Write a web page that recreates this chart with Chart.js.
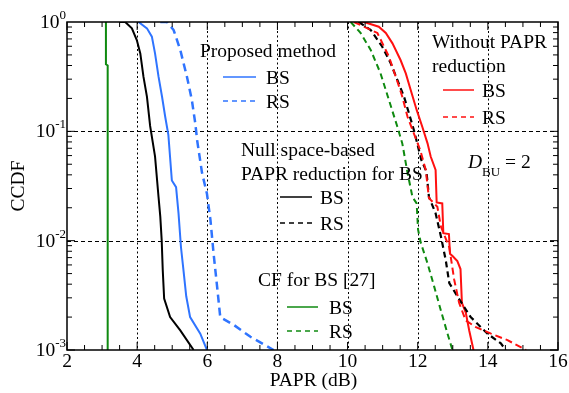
<!DOCTYPE html>
<html>
<head>
<meta charset="utf-8">
<script src="https://cdn.jsdelivr.net/npm/chart.js@4.4.1/dist/chart.umd.min.js"></script>
<style>
  html, body { margin: 0; padding: 0; background: #fff; }
  #wrap { width: 569px; height: 393px; }
</style>
</head>
<body>
<div id="wrap"><canvas id="papr"></canvas></div>
<script>
// PAPR (dB) / CCDF pairs
var propBsX = [4.04, 4.28, 4.42, 4.51, 4.61, 4.71, 4.80, 4.89, 4.99, 5.11, 5.18, 5.25, 5.32, 5.40, 5.51, 5.80, 5.99]
var propBsY = [1, 0.875, 0.735, 0.516, 0.316, 0.207, 0.136, 0.093, 0.0355, 0.0309, 0.0178, 0.0087, 0.0054, 0.0031, 0.0020, 0.00141, 0.001]

var propRsX = [4.66, 4.85, 5.04, 5.23, 5.42, 5.56, 5.66, 5.71, 5.85, 5.99, 6.09, 6.18, 6.28, 6.37, 6.75, 7.23, 7.89]
var propRsY = [1, 1, 0.845, 0.555, 0.316, 0.193, 0.117, 0.083, 0.0417, 0.0269, 0.0155, 0.0076, 0.0038, 0.0020, 0.0017, 0.00132, 0.001]

var nullBsX = [3.50, 3.66, 3.85, 3.99, 4.09, 4.18, 4.28, 4.37, 4.51, 4.61, 4.66, 4.70, 4.73, 4.77, 4.94, 5.23, 5.61]
var nullBsY = [1, 1, 0.875, 0.684, 0.516, 0.316, 0.207, 0.112, 0.059, 0.0251, 0.0166, 0.0101, 0.0054, 0.00295, 0.0020, 0.00151, 0.001]

var nullRsX = [10.32, 10.66, 10.99, 11.23, 11.42, 11.61, 11.75, 11.89, 12.01, 12.10, 12.25, 12.32, 12.51, 12.66, 12.80, 12.90, 13.13, 13.51, 13.99, 14.37, 14.51]
var nullRsY = [1, 0.845, 0.594, 0.419, 0.295, 0.207, 0.146, 0.103, 0.0724, 0.055, 0.0427, 0.0251, 0.0178, 0.011, 0.0066, 0.0041, 0.0031, 0.0020, 0.00141, 0.00115, 0.001]

var cfBsX = [3.11, 3.11, 3.16, 3.16]
var cfBsY = [1, 0.41, 0.40, 0.001]

var cfRsX = [10.09, 10.37, 10.66, 10.94, 11.18, 11.42, 11.56, 11.71, 11.85, 11.97, 12.01, 12.09, 12.28, 12.47, 12.66, 12.85, 12.99]
var cfRsY = [1, 0.794, 0.555, 0.339, 0.193, 0.110, 0.0776, 0.0417, 0.0251, 0.0219, 0.0126, 0.0095, 0.0062, 0.0038, 0.0023, 0.00141, 0.001]

var woBsX = [10.30, 10.47, 10.89, 11.09, 11.28, 11.51, 11.66, 11.80, 11.97, 12.13, 12.28, 12.37, 12.51, 12.54, 12.70, 12.73, 12.89, 12.92, 13.00, 13.13, 13.22, 13.26, 13.37, 13.47, 13.59]
var woBsY = [1, 1, 0.906, 0.794, 0.638, 0.449, 0.339, 0.239, 0.157, 0.110, 0.0776, 0.0589, 0.0443, 0.0224, 0.0219, 0.0117, 0.0115, 0.0076, 0.0072, 0.0065, 0.0055, 0.0027, 0.0022, 0.0015, 0.001]

var woRsX = [10.18, 10.85, 11.18, 11.47, 11.56, 11.71, 11.89, 12.07, 12.23, 12.32, 12.56, 12.66, 12.90, 13.04, 13.18, 13.37, 13.66, 14.09, 14.56, 15.09]
var woRsY = [1, 0.794, 0.482, 0.256, 0.207, 0.136, 0.0955, 0.0676, 0.0443, 0.0245, 0.0204, 0.0135, 0.0087, 0.0044, 0.0027, 0.00186, 0.00162, 0.00141, 0.00123, 0.001]

var xTicks = [2, 4, 6, 8, 10, 12, 14, 16]
var yTicks = [1, 0.1, 0.01, 0.001]
var yTickExp = ['0', '-1', '-2', '-3']

var BLUE = '#2f74ff'
var RED = '#ff1010'
var GREEN = '#0f8a10'
var BLACK = '#000000'
var FONT = '"Liberation Serif", "Times New Roman", serif'

function pts(xs, ys) {
  var out = []
  for (var i = 0; i < xs.length; i++) out.push({ x: xs[i], y: ys[i] })
  return out
}

function line(label, xs, ys, colour, dash, width) {
  return {
    label: label,
    data: pts(xs, ys),
    borderColor: colour,
    borderWidth: width || 2,
    borderDash: dash || [],
    pointRadius: 0,
    showLine: true,
    fill: false,
    tension: 0
  }
}

// legend blocks: [title lines, title x, first baseline, line x0, line x1, text x, bs line y, colour]
var legends = [
  { title: ['Proposed method'], tx: 200, ty: 57, lx0: 223, lx1: 256, sx: 266, y1: 77, y2: 101, colour: BLUE },
  { title: ['Null space-based', 'PAPR reduction for BS'], tx: 241, ty: 156, lx0: 280, lx1: 312, sx: 320, y1: 197, y2: 223, colour: BLACK },
  { title: ['CF for BS [27]'], tx: 258, ty: 286, lx0: 287, lx1: 318, sx: 329, y1: 307, y2: 331, colour: GREEN },
  { title: ['Without PAPR', 'reduction'], tx: 432, ty: 48, lx0: 443, lx1: 474, sx: 482, y1: 90, y2: 117, colour: RED }
]

var framePlugin = {
  id: 'frame',
  beforeDatasetsDraw: function(chart) {
    var ctx = chart.ctx
    var ca = chart.chartArea
    var xs = chart.scales.x
    var ys = chart.scales.y
    ctx.save()
    ctx.strokeStyle = '#000'
    ctx.lineWidth = 1
    ctx.setLineDash([2, 2.5])
    for (var v = 4; v <= 14; v += 2) {
      var px = Math.round(xs.getPixelForValue(v)) + 0.5
      ctx.beginPath(); ctx.moveTo(px, ca.top); ctx.lineTo(px, ca.bottom); ctx.stroke()
    }
    ctx.setLineDash([4, 3])
    ;[0.1, 0.01].forEach(function(v) {
      var py = Math.round(ys.getPixelForValue(v)) + 0.5
      ctx.beginPath(); ctx.moveTo(ca.left, py); ctx.lineTo(ca.right, py); ctx.stroke()
    })
    ctx.restore()
  },
  afterDatasetsDraw: function(chart) {
    var ctx = chart.ctx
    var ca = chart.chartArea
    var xs = chart.scales.x
    var ys = chart.scales.y
    ctx.save()
    ctx.setLineDash([])
    ctx.strokeStyle = '#000'
    ctx.lineWidth = 1.5
    ctx.strokeRect(ca.left, ca.top, ca.right - ca.left, ca.bottom - ca.top)

    // inward ticks
    ctx.lineWidth = 1
    ctx.beginPath()
    for (var v = 2; v <= 16.001; v += 0.5) {
      var px = xs.getPixelForValue(v)
      var len = (v % 2 === 0) ? 8 : 5
      ctx.moveTo(px, ca.bottom); ctx.lineTo(px, ca.bottom - len)
      ctx.moveTo(px, ca.top); ctx.lineTo(px, ca.top + len)
    }
    for (var e = -3; e < 0; e++) {
      for (var k = 1; k <= 9; k++) {
        var py = ys.getPixelForValue(k * Math.pow(10, e))
        var l = (k === 1) ? 8 : 5
        ctx.moveTo(ca.left, py); ctx.lineTo(ca.left + l, py)
        ctx.moveTo(ca.right, py); ctx.lineTo(ca.right - l, py)
      }
    }
    ctx.stroke()

    // tick labels
    ctx.fillStyle = '#000'
    ctx.font = '19.5px ' + FONT
    ctx.textAlign = 'center'
    ctx.textBaseline = 'alphabetic'
    xTicks.forEach(function(v) {
      ctx.fillText(String(v), xs.getPixelForValue(v), ca.bottom + 17)
    })
    yTicks.forEach(function(v, i) {
      var py = ys.getPixelForValue(v)
      ctx.font = '13px ' + FONT
      ctx.textAlign = 'left'
      var ew = ctx.measureText(yTickExp[i]).width
      var ex = ca.left - 1 - ew
      ctx.fillText(yTickExp[i], ex, py - 3)
      ctx.font = '19.5px ' + FONT
      ctx.textAlign = 'right'
      ctx.fillText('10', ex, py + 6)
    })

    // axis titles
    ctx.textAlign = 'center'
    ctx.fillText('PAPR (dB)', (ca.left + ca.right) / 2 + 1, ca.bottom + 36)
    ctx.save()
    ctx.translate(24, (ca.top + ca.bottom) / 2)
    ctx.rotate(-Math.PI / 2)
    ctx.fillText('CCDF', 0, 0)
    ctx.restore()

    // legends
    legends.forEach(function(lg) {
      ctx.textAlign = 'left'
      ctx.font = '19.5px ' + FONT
      lg.title.forEach(function(t, i) {
        ctx.fillText(t, lg.tx, lg.ty + i * 24)
      })
      ctx.fillText('BS', lg.sx, lg.y1 + 7)
      ctx.fillText('RS', lg.sx, lg.y2 + 7)
      ctx.strokeStyle = lg.colour
      ctx.lineWidth = 1.5
      ctx.setLineDash([])
      ctx.beginPath(); ctx.moveTo(lg.lx0, lg.y1); ctx.lineTo(lg.lx1, lg.y1); ctx.stroke()
      ctx.setLineDash([5, 4])
      ctx.beginPath(); ctx.moveTo(lg.lx0, lg.y2); ctx.lineTo(lg.lx1, lg.y2); ctx.stroke()
      ctx.setLineDash([])
    })

    // D_BU = 2
    ctx.textAlign = 'left'
    ctx.font = 'italic 19.5px ' + FONT
    ctx.fillText('D', 468, 168)
    var dw = ctx.measureText('D').width
    ctx.font = '13px ' + FONT
    ctx.fillText('BU', 468 + dw, 176)
    var bw = ctx.measureText('BU').width
    ctx.font = '19.5px ' + FONT
    ctx.fillText(' = 2', 468 + dw + bw, 168)
    ctx.restore()
  }
}

var ctx = document.getElementById('papr').getContext('2d')
var paprChart = new Chart(ctx, {
  type: 'scatter',
  data: {
    datasets: [
      line('CF BS', cfBsX, cfBsY, GREEN, [], 2),
      line('CF RS', cfRsX, cfRsY, GREEN, [6, 4], 2),
      line('Without RS', woRsX, woRsY, RED, [7, 4], 2),
      line('Null space RS', nullRsX, nullRsY, BLACK, [6, 4], 2.2),
      line('Without BS', woBsX, woBsY, RED, [], 2),
      line('Null space BS', nullBsX, nullBsY, BLACK, [], 2),
      line('Proposed BS', propBsX, propBsY, BLUE, [], 2),
      line('Proposed RS', propRsX, propRsY, BLUE, [8, 5], 2.5)
    ]
  },
  options: {
    responsive: true,
    maintainAspectRatio: false,
    animation: false,
    layout: {
      padding: { left: 67, right: 11, top: 22, bottom: 43 }
    },
    plugins: {
      legend: { display: false },
      tooltip: { enabled: false }
    },
    scales: {
      x: {
        type: 'linear',
        min: 2,
        max: 16,
        ticks: { display: false },
        grid: { display: false, drawTicks: false },
        border: { display: false }
      },
      y: {
        type: 'logarithmic',
        min: 0.001,
        max: 1,
        ticks: { display: false },
        grid: { display: false, drawTicks: false },
        border: { display: false }
      }
    }
  },
  plugins: [framePlugin]
})
</script>
</body>
</html>
